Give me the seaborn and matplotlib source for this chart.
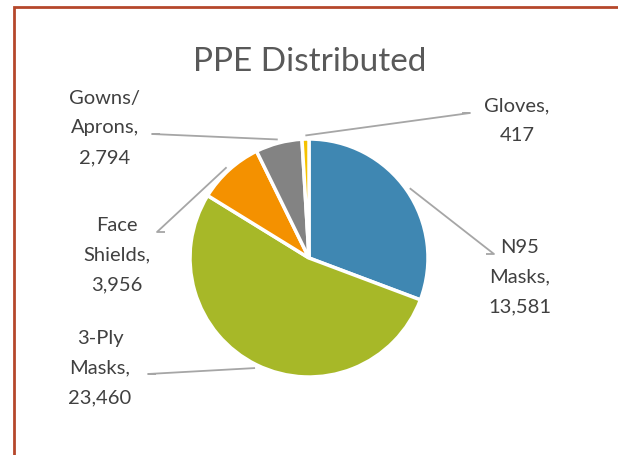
import matplotlib.pyplot as plt
import seaborn as sns
import numpy as np

# PPE items and counts, clockwise from 12 o'clock
items = ['N95\nMasks', '3-Ply\nMasks', 'Face\nShields', 'Gowns/\nAprons', 'Gloves']
counts = [13581, 23460, 3956, 2794, 417]
colors = ['#3F87B2', '#A7B828', '#F49100', '#838383', '#F5C200']

# label box centres and elbow points (pixel layout, y from top)
label_pos = [(520, 277), (100, 368), (117, 255), (105, 128), (517, 121)]
elbows = [(494, 254), (148, 374), (157, 232), (152, 134), (470, 113)]

W, H = 618, 455
sns.set_theme(style='white')
plt.rcParams['font.family'] = ['Lato', 'DejaVu Sans']

fig = plt.figure(figsize=(W / 100, H / 100), dpi=100)
ax = fig.add_axes([0, 0, 1, 1])

cx, cy, r = 309, H - 258, 119
wedges, _ = ax.pie(counts, colors=colors, startangle=90, counterclock=False,
                   center=(cx, cy), radius=r, frame=False,
                   wedgeprops=dict(edgecolor='white', linewidth=2.5))
ax.set_xlim(0, W)
ax.set_ylim(0, H)
ax.set_aspect('equal')
ax.axis('off')

# labels with leader lines
for w, name, n, (tx, ty), (ex, ey) in zip(wedges, items, counts, label_pos, elbows):
    mid = np.deg2rad((w.theta1 + w.theta2) / 2)
    px = cx + r * 1.03 * np.cos(mid)
    py = cy + r * 1.03 * np.sin(mid)
    # short horizontal stub next to the text, then to the slice
    stub_x = ex + (8 if ex < cx else -8)
    ax.plot([stub_x, ex, px], [H - ey, H - ey, py], color='#A6A6A6', lw=1.3,
            solid_capstyle='butt')
    ax.text(tx, H - ty, f'{name},\n{n:,}', ha='center', va='center',
            multialignment='center', fontsize=14.5, color='#404040',
            linespacing=1.9)

ax.text(310, H - 62, 'PPE Distributed', ha='center', va='center',
        fontsize=24, color='#595959')

# chart border (top and left edges visible)
ax.plot([14, 14, W + 5], [-5, H - 7, H - 7], color='#B5472B', lw=2,
        solid_joinstyle='miter', clip_on=False)

fig.savefig('out.png', dpi=100)
